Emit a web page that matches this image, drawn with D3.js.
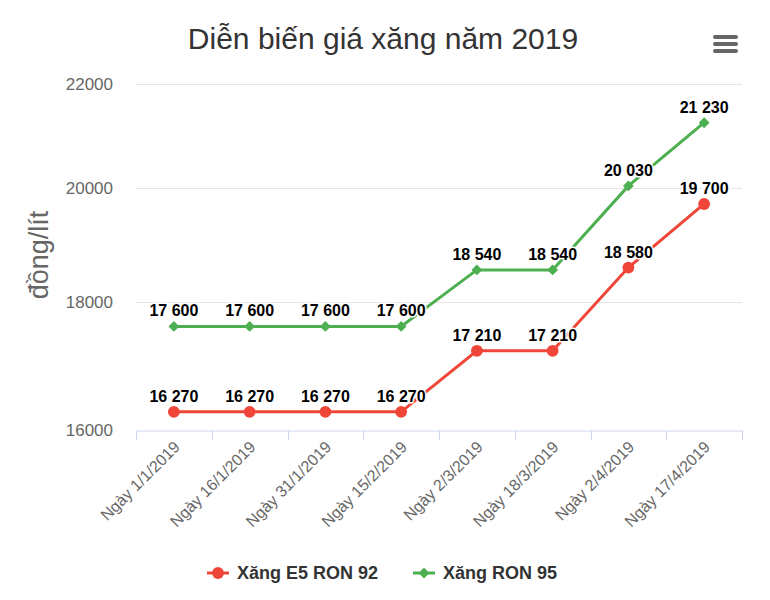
<!DOCTYPE html>
<html>
<head>
<meta charset="utf-8">
<script src="https://cdn.jsdelivr.net/npm/d3@7"></script>
<style>
  body { margin: 0; background: #fff; }
  text { font-family: "Liberation Sans", Arial, sans-serif; }
</style>
</head>
<body>
<svg class="svg" width="770" height="600"></svg>
<script>
let categories = ['Ngày 1/1/2019','Ngày 16/1/2019','Ngày 31/1/2019','Ngày 15/2/2019',
    'Ngày 2/3/2019','Ngày 18/3/2019','Ngày 2/4/2019','Ngày 17/4/2019'];
let e5Values = [16270, 16270, 16270, 16270, 17210, 17210, 18580, 19700];
let ron95Values = [17600, 17600, 17600, 17600, 18540, 18540, 20030, 21230];
let yTicks = [16000, 18000, 20000, 22000];
let seriesNames = ['Xăng E5 RON 92', 'Xăng RON 95'];
let seriesColors = ['#f0463a', '#4caf50'];

let plotLeft = 136, plotRight = 742, plotTop = 84, plotBottom = 430;
let svg = d3.select('.svg');

let x = d3.scaleBand().domain(categories).range([plotLeft, plotRight]);
let y = d3.scaleLog().domain([16000, 22000]).range([plotBottom, plotTop]);

function marker(s) {
    return s === 0 ? d3.symbol(d3.symbolCircle, 110)() : d3.symbol(d3.symbolDiamond2, 75)();
}

// title
svg.append('text').attr('x', 383).attr('y', 49).attr('text-anchor', 'middle')
    .style('font-size', '30px').style('fill', '#333').text('Diễn biến giá xăng năm 2019');

// menu icon
for (let i = 0; i < 3; i++) {
    svg.append('rect').attr('x', 713).attr('y', 35 + i * 7).attr('width', 25).attr('height', 4)
        .attr('rx', 2).style('fill', '#666');
}

// grid
svg.append('g').selectAll('line').data(yTicks.slice(1)).enter().append('line')
    .attr('x1', plotLeft).attr('x2', plotRight)
    .attr('y1', d => Math.round(y(d)) + 0.5).attr('y2', d => Math.round(y(d)) + 0.5)
    .style('stroke', '#e6e6e6');

// y labels
svg.append('g').selectAll('text').data(yTicks).enter().append('text')
    .attr('x', 113).attr('y', d => y(d) + 6).attr('text-anchor', 'end')
    .style('font-size', '17px').style('fill', '#666').text(d => d);

// y title
svg.append('text').attr('transform', 'translate(48,255) rotate(-90)').attr('text-anchor', 'middle')
    .style('font-size', '27px').style('fill', '#666').text('đồng/lít');

// x axis
let xAxis = d3.axisBottom(x).tickSize(0).tickFormat('');
let gx = svg.append('g').attr('transform', 'translate(0,' + (plotBottom + 0.5) + ')').call(xAxis);
gx.select('.domain').style('stroke', '#ccd6eb');
let bounds = categories.map(c => x(c)).concat([plotRight]);
gx.selectAll('.bound').data(bounds).enter().append('line')
    .attr('x1', d => Math.round(d) + 0.5).attr('x2', d => Math.round(d) + 0.5)
    .attr('y1', 0).attr('y2', 10).style('stroke', '#ccd6eb');

svg.append('g').selectAll('text').data(categories).enter().append('text')
    .attr('transform', d => 'translate(' + (x(d) + x.bandwidth() / 2 + 7) + ',' + (plotBottom + 18) + ') rotate(-45)')
    .attr('text-anchor', 'end').style('font-size', '16px').style('fill', '#666').text(d => d);

// series
let allSeries = [e5Values, ron95Values];
let line = d3.line().x((d, i) => x(categories[i]) + x.bandwidth() / 2).y(d => y(d));
allSeries.forEach((vals, s) => {
    let g = svg.append('g');
    g.append('path').datum(vals).attr('d', line).style('fill', 'none')
        .style('stroke', seriesColors[s]).style('stroke-width', 3);
    g.selectAll('.pt').data(vals).enter().append('path')
        .attr('transform', (d, i) => 'translate(' + (x(categories[i]) + x.bandwidth() / 2) + ',' + y(d) + ')')
        .attr('d', marker(s))
        .style('fill', seriesColors[s]);
    g.selectAll('.lbl').data(vals).enter().append('text')
        .attr('x', (d, i) => x(categories[i]) + x.bandwidth() / 2)
        .attr('y', d => y(d) - 10)
        .attr('text-anchor', 'middle')
        .style('font-size', '16px').style('font-weight', 'bold').style('fill', '#000')
        .style('stroke', '#fff').style('stroke-width', 3).style('paint-order', 'stroke')
        .style('stroke-linejoin', 'round')
        .text(d => d3.format(',')(d).replace(',', ' '));
});

// legend
let legendX = [207, 413];
seriesNames.forEach((name, s) => {
    let g = svg.append('g').attr('transform', 'translate(' + legendX[s] + ',573)');
    g.append('line').attr('x1', 0).attr('x2', 22).style('stroke', seriesColors[s]).style('stroke-width', 3);
    g.append('path').attr('transform', 'translate(11,0)')
        .attr('d', marker(s))
        .style('fill', seriesColors[s]);
    g.append('text').attr('x', 30).attr('y', 6).style('font-size', '18px').style('font-weight', 'bold')
        .style('fill', '#333').text(name);
});
</script>
</body>
</html>
